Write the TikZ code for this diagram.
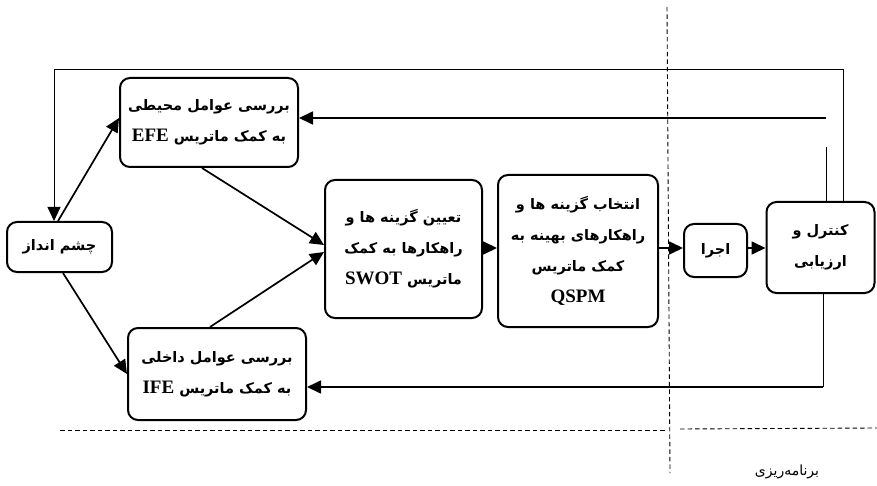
\documentclass[tikz,border=0pt]{standalone}
\usepackage{fontspec}
\TeXXeTstate=1
\newfontfamily\fa[Script=Arabic]{DejaVu Sans}
\newfontfamily\lat{Liberation Serif}
\usetikzlibrary{arrows.meta}
\newcommand{\RL}[1]{\beginR #1\endR}
\newcommand{\LT}[1]{\beginL{\lat\bfseries\fontsize{19}{21}\selectfont #1}\endL}
\tikzset{
  box/.style={draw, line width=2pt, rounded corners=10pt, inner sep=2pt,
    align=center, font=\fa\bfseries\fontsize{14.5}{31}\selectfont},
  tip/.tip={Triangle[length=14pt,width=13pt]},
  arr/.style={line width=1.7pt, -tip},
  thinline/.style={line width=0.9pt},
  midline/.style={line width=1.7pt},
  dashline/.style={line width=0.9pt, dash pattern=on 4.5pt off 3pt}
}
\begin{document}
\begin{tikzpicture}[x=1pt,y=-1pt]
\useasboundingbox (0,0) rectangle (877,486);
% nodes
\node[box, minimum width=178pt, minimum height=89pt] (efe) at (209,122.5)
  {\RL{بررسی عوامل محیطی}\\ \RL{به کمک ماتریس \LT{EFE}}};
\node[box, minimum width=105pt, minimum height=50pt] (vision) at (59.5,247)
  {\RL{چشم انداز}};
\node[box, minimum width=178pt, minimum height=92pt] (ife) at (217,374)
  {\RL{بررسی عوامل داخلی}\\ \RL{به کمک ماتریس \LT{IFE}}};
\node[box, minimum width=157pt, minimum height=138pt] (swot) at (403.5,249)
  {\RL{تعیین گزینه ها و}\\ \RL{راهکارها به کمک}\\ \RL{ماتریس \LT{SWOT}}};
\node[box, minimum width=160pt, minimum height=152pt] (qspm) at (578,251)
  {\RL{انتخاب گزینه ها و}\\ \RL{راهکارهای بهینه به}\\ \RL{کمک ماتریس}\\ \LT{QSPM}};
\node[box, minimum width=63pt, minimum height=53pt] (ejra) at (715.5,250.5)
  {\RL{اجرا}};
\node[box, minimum width=108pt, minimum height=91pt] (ctrl) at (820.5,247.5)
  {\RL{کنترل و}\\ \RL{ارزیابی}};
% coordinates
\coordinate (t1) at (843,69);
\coordinate (t2) at (54,69);
\coordinate (r1) at (826,118);
\coordinate (r2) at (826,147);
\coordinate (r3) at (823,387);
% feedback top
\draw[thinline] (ctrl.north -| t1) -- (t1) -- (t2);
\draw[thinline, -tip] (t2) -- (t2 |- vision.north);
% EFE return
\draw[thinline] (ctrl.north -| r2) -- (r2);
\draw[midline, -tip] (r1) -- (r1 -| efe.east);
% IFE return
\draw[thinline] (ctrl.south -| r3) -- (r3);
\draw[midline, -tip] (r3) -- (r3 -| ife.east);
% main arrows
\draw[arr] ([xshift=-1.5pt]vision.north) -- ([yshift=4.5pt]efe.west);
\draw[arr] ([xshift=3.5pt]vision.south) -- (ife.west);
\draw[arr] ([xshift=-7pt]efe.south) -- ([yshift=4pt]swot.west);
\draw[arr] ([xshift=-7pt]ife.north) -- ([yshift=-3pt]swot.west);
\draw[arr] ([yshift=1pt]swot.east) -- ([yshift=1pt]swot.east -| qspm.west);
\draw[arr] ([yshift=3pt]qspm.east) -- ([yshift=3pt]qspm.east -| ejra.west);
\draw[arr] ([yshift=2.5pt]ejra.east) -- ([yshift=2.5pt]ejra.east -| ctrl.west);
% dashed guides
\coordinate (d1) at (667,7);
\coordinate (d2) at (670,473);
\coordinate (h1) at (60,430);
\coordinate (h2) at (665,430);
\coordinate (h3) at (680,429);
\coordinate (h4) at (877,428);
\draw[dashline] (d1) -- (d2);
\draw[dashline] (h1) -- (h2);
\draw[dashline] (h3) -- (h4);
\node[font=\fa\fontsize{14}{16}\selectfont] (plan) at (787,472) {\RL{برنامه‌ریزی}};
\end{tikzpicture}
\end{document}
